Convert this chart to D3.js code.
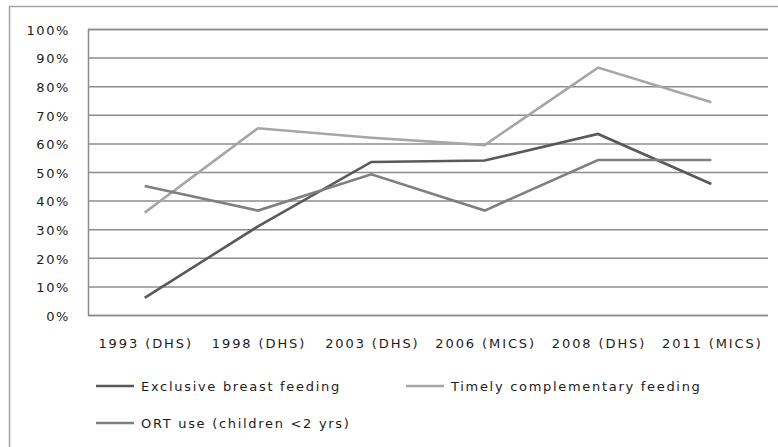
<!DOCTYPE html>
<html>
<head>
<meta charset="utf-8">
<script src="https://cdn.jsdelivr.net/npm/d3@7"></script>
<style>
  html, body { margin: 0; padding: 0; background: #fff; }
  svg text { font-family: "DejaVu Sans", sans-serif; fill: #1c1c1c; }
</style>
</head>
<body>
<svg id="chart" width="778" height="447"></svg>
<script>
// Survey rounds and indicator shares (fraction of children)
const surveys = ["1993 (DHS)", "1998 (DHS)", "2003 (DHS)", "2006 (MICS)", "2008 (DHS)", "2011 (MICS)"];
const exclusiveBreastFeeding = [0.06, 0.31, 0.535, 0.54, 0.633, 0.458];
const timelyComplementary   = [0.358, 0.653, 0.62, 0.594, 0.865, 0.744];
const ortUse                = [0.451, 0.365, 0.492, 0.365, 0.542, 0.542];
const yTicks = [0, 0.1, 0.2, 0.3, 0.4, 0.5, 0.6, 0.7, 0.8, 0.9, 1.0];

const series = [
  { name: "Exclusive breast feeding", values: exclusiveBreastFeeding, color: "#595959" },
  { name: "Timely complementary feeding", values: timelyComplementary, color: "#a6a6a6" },
  { name: "ORT use (children <2 yrs)", values: ortUse, color: "#7f7f7f" }
];

const svg = d3.select("#chart");
const plot = { left: 88, right: 768, top: 29, bottom: 315 };

// Outer chart frame (runs past the right and bottom edges)
svg.append("rect")
  .attr("x", 9.5).attr("y", 6.5)
  .attr("width", 820).attr("height", 480)
  .attr("fill", "none").attr("stroke", "#a3a3a3").attr("stroke-width", 1.5);

const x = d3.scalePoint().domain(surveys).range([plot.left, plot.right]).padding(0.5);
const y = d3.scaleLinear().domain([0, 1]).range([plot.bottom, plot.top]);

// Horizontal gridlines + y labels
const yAxis = d3.axisLeft(y).tickValues(yTicks).tickFormat(d3.format(".0%"))
  .tickSize(-(plot.right - plot.left)).tickPadding(18);
const gy = svg.append("g").attr("transform", `translate(${plot.left},0)`).call(yAxis);
gy.select(".domain").attr("stroke", "#8c8c8c").attr("stroke-width", 1.5);
gy.selectAll(".tick line").attr("stroke", "#8c8c8c").attr("stroke-width", 1.5);
gy.selectAll(".tick text")
  .attr("font-size", 13).attr("letter-spacing", 1.6).attr("fill", "#1c1c1c")
  .attr("font-family", "DejaVu Sans, sans-serif")
  .attr("dy", "0.4em");

// Category labels below the plot
svg.append("g").selectAll("text").data(surveys).join("text")
  .attr("x", d => x(d) + 1).attr("y", 348)
  .attr("text-anchor", "middle")
  .attr("font-size", 13).attr("letter-spacing", 1.9)
  .text(d => d);

// Series lines
const line = d3.line().x((d, i) => x(surveys[i])).y(d => y(d));
svg.append("g").selectAll("path").data(series).join("path")
  .attr("d", d => line(d.values))
  .attr("fill", "none")
  .attr("stroke", d => d.color)
  .attr("stroke-width", 2.6)
  .attr("stroke-linejoin", "miter");

// Legend
const legendPos = [[96, 386], [406, 386], [96, 423]];
const lg = svg.append("g").selectAll("g").data(series).join("g")
  .attr("transform", (d, i) => `translate(${legendPos[i][0]},${legendPos[i][1]})`);
lg.append("line").attr("x1", 0).attr("x2", 38).attr("y1", 0).attr("y2", 0)
  .attr("stroke", d => d.color).attr("stroke-width", 2.6);
lg.append("text").attr("x", 45).attr("y", 0).attr("dy", "0.4em")
  .attr("font-size", 13).attr("letter-spacing", 1.7)
  .text(d => d.name);
</script>
</body>
</html>
